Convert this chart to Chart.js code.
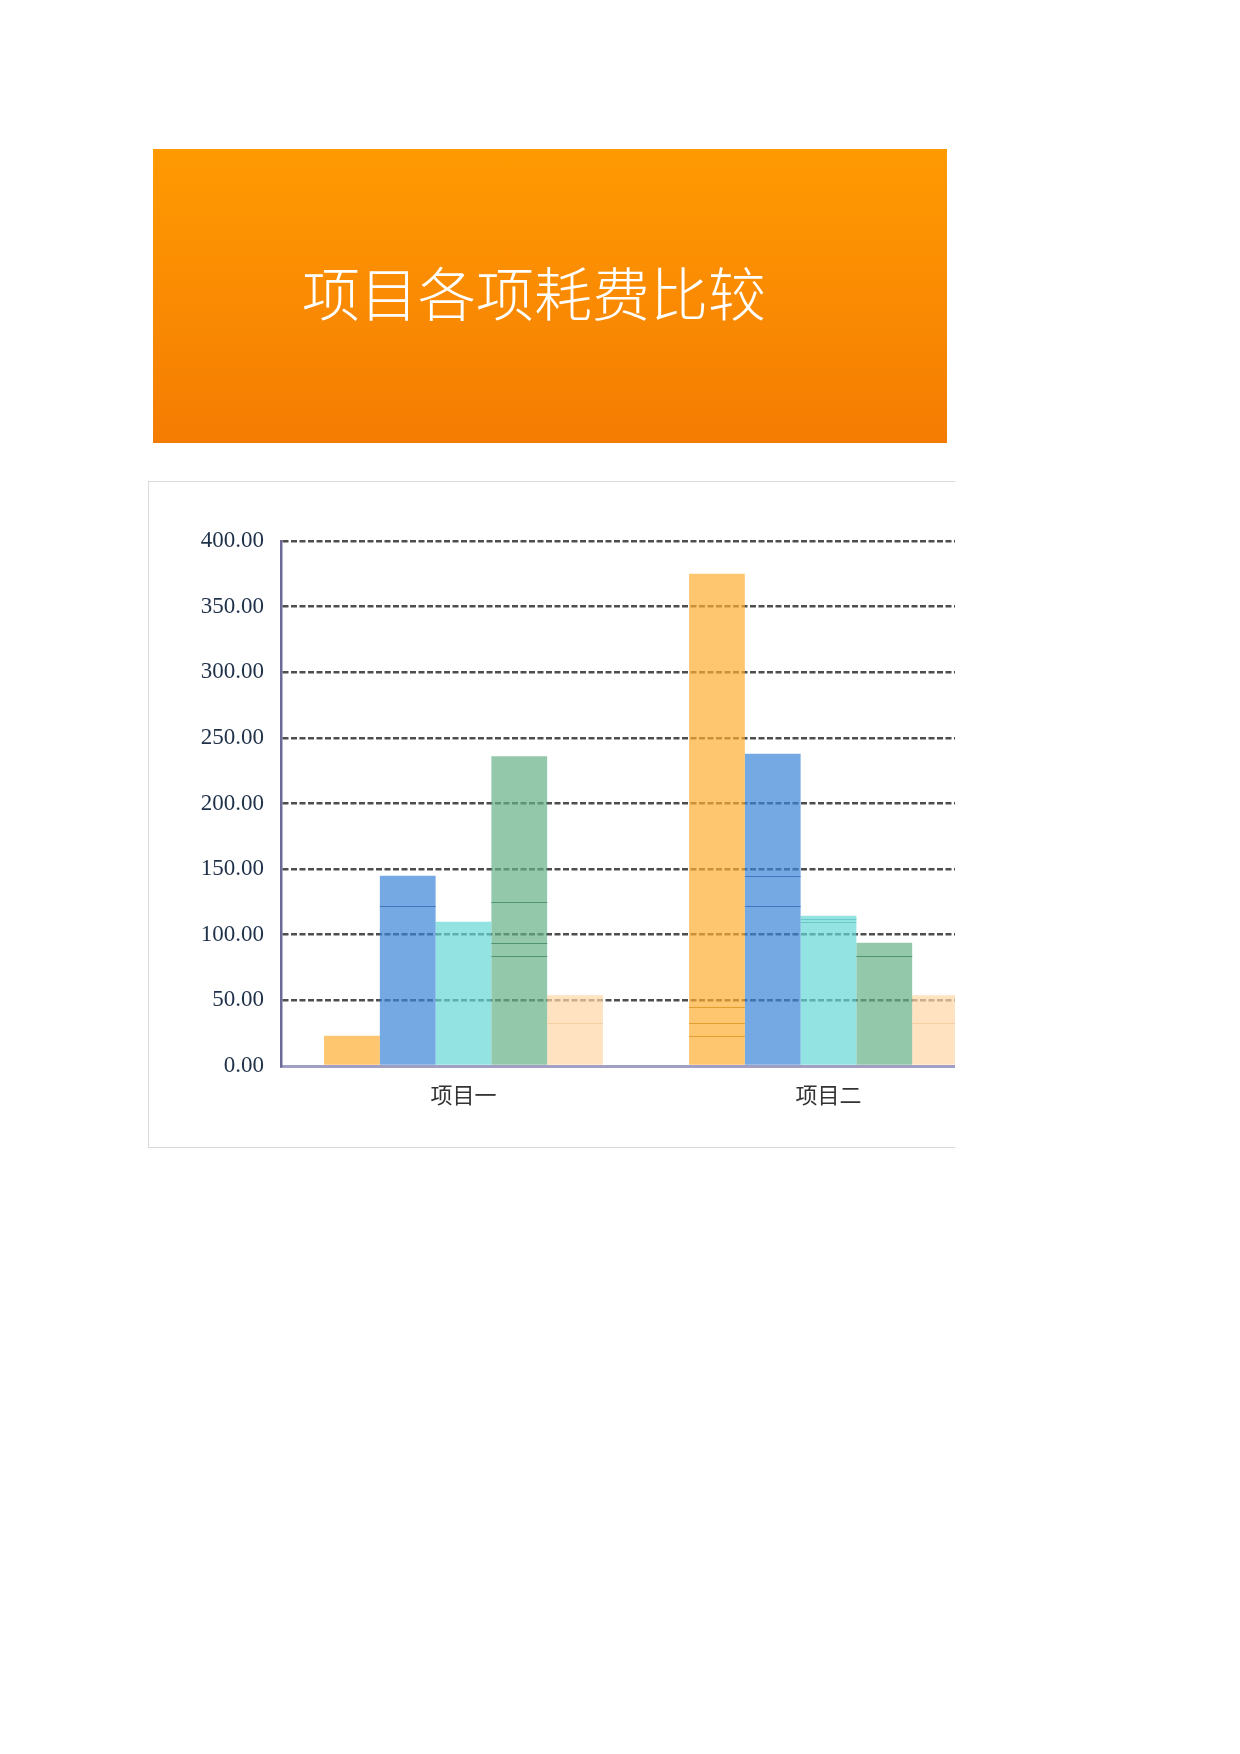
<!DOCTYPE html>
<html>
<head>
<meta charset="utf-8">
<script src="https://cdn.jsdelivr.net/npm/chart.js@4"></script>
<style>
  body { margin: 0; background: #fff; width: 1240px; height: 1754px; position: relative; }
  #banner {
    position: absolute; left: 153px; top: 149px; width: 794px; height: 294px;
    background: linear-gradient(#ff9a02, #f57c02);
  }
  #banner span {
    position: absolute; left: 0; width: 762px; top: 0; line-height: 284px; text-align: center;
    color: #fff; font-family: "Noto Sans CJK SC", sans-serif; font-weight: 300; font-size: 58px;
  }
  #box {
    position: absolute; left: 148px; top: 481px; width: 806px; height: 665px;
    border-top: 1px solid #d9d9d9; border-left: 1px solid #d9d9d9; border-bottom: 1px solid #d9d9d9;
    overflow: hidden;
  }
  #wrap { position: absolute; left: 0; top: 0; width: 880px; height: 665px; }
</style>
</head>
<body>
<div id="banner"><span>项目各项耗费比较</span></div>
<div id="box"><div id="wrap"><canvas id="grafico"></canvas></div></div>
<script>
// DADOS
const categorias = ["项目一", "项目二"];
const serie1 = [23, 375];
const serie2 = [145, 238];
const serie3 = [110, 114.5];
const serie4 = [236, 94];
const serie5 = [54, 54];
const yTicks = [0, 50, 100, 150, 200, 250, 300, 350, 400];

// linhas finas dentro das barras (bordas de barras sobrepostas)
const linhas1 = [[], [45, 33, 23]];
const linhas2 = [[122], [145, 122]];
const linhas3 = [[], [112, 110]];
const linhas4 = [[125, 94, 84], [84]];
const linhas5 = [[33], [33]];

const cores = ["rgba(255,174,51,0.7)", "rgba(58,132,215,0.7)", "rgba(101,215,215,0.7)", "rgba(101,176,134,0.7)", "rgba(255,214,165,0.7)"];
const coresLinha = ["#e0a030", "#3f78c0", "#6cc8c8", "#4f9470", "#f3cfa6"];

const linhasInternas = {
  id: "linhasInternas",
  afterDatasetsDraw(chart) {
    const ctx = chart.ctx;
    const y = chart.scales.y;
    const todas = [linhas1, linhas2, linhas3, linhas4, linhas5];
    chart.data.datasets.forEach((ds, i) => {
      const meta = chart.getDatasetMeta(i);
      meta.data.forEach((bar, j) => {
        const vals = todas[i][j] || [];
        const half = bar.width / 2;
        ctx.save();
        ctx.strokeStyle = coresLinha[i];
        ctx.lineWidth = 1.2;
        for (const v of vals) {
          const py = Math.round(y.getPixelForValue(v)) + 0.5;
          ctx.beginPath();
          ctx.moveTo(bar.x - half, py);
          ctx.lineTo(bar.x + half, py);
          ctx.stroke();
        }
        ctx.restore();
      });
    });
  }
};

const series = [serie1, serie2, serie3, serie4, serie5];
const config = {
  type: "bar",
  data: {
    labels: categorias,
    datasets: series.map((s, i) => ({
      label: "系列" + (i + 1),
      data: s,
      backgroundColor: cores[i],
      borderWidth: 0,
      categoryPercentage: 0.764,
      barPercentage: 1.0,
    })),
  },
  options: {
    responsive: false,
    animation: false,
    layout: { padding: { top: 59, right: 18, bottom: 0, left: 0 } },
    plugins: { legend: { display: false }, tooltip: { enabled: false } },
    scales: {
      x: {
        grid: { display: false },
        border: { display: true, color: "#a29fc4", width: 3 },
        ticks: { color: "#333333", font: { family: "Noto Sans CJK SC", size: 22 }, padding: 7 },
        afterFit: (s) => { s.height = 81; },
      },
      y: {
        min: 0,
        max: 400,
        afterBuildTicks: (s) => { s.ticks = yTicks.map((v) => ({ value: v })); },
        grid: { color: "#4e4e4e", lineWidth: 2.6, drawTicks: false },
        border: { display: true, color: "#6e6a98", width: 2.5, dash: [6, 2.5] },
        ticks: {
          color: "#1f3049",
          font: { family: "Liberation Serif", size: 23 },
          padding: 17,
          callback: (v) => Number(v).toFixed(2),
        },
        afterFit: (s) => { s.width = 132; },
      },
    },
  },
  plugins: [linhasInternas],
};

const canvas = document.getElementById("grafico");
canvas.width = 880;
canvas.height = 665;
new Chart(canvas, config);
</script>
</body>
</html>
